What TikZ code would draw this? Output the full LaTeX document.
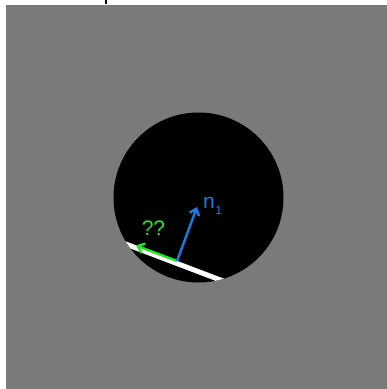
\documentclass[tikz,border=0pt]{standalone}
\usepackage{fontspec}
\setmainfont{Liberation Sans}
\usetikzlibrary{arrows.meta}
\definecolor{bggray}{RGB}{122,122,122}
\definecolor{normalblue}{RGB}{24,124,230}
\definecolor{guessgreen}{RGB}{34,232,34}

\begin{document}
\begin{tikzpicture}[x=1pt, y=-1pt, line cap=butt,
	vecline/.style={line width=2.4pt, -{Straight Barb[length=6pt, width=10pt]}},
	lbl/.style={font=\fontsize{21}{21}\selectfont, inner sep=0pt}]
	% Background, disc and surface:
	\useasboundingbox (0, 0) rectangle (387, 389);
	\fill[white] (0, 0) rectangle (387, 389);
	\fill[bggray] (6, 5) rectangle (387, 389);
	\fill[black] (105, 0) rectangle (107, 4);
	\node[circle, fill=black, minimum size=170pt, inner sep=0pt](disc) at (198.5, 197.5){};
	\coordinate (cl) at (77, 225.5);
	\coordinate (cr) at (277, 301.5);
	\begin{scope}
		\clip (disc.center) circle (85);
		\draw[white, line width=5pt] (cl) -- (cr);
	\end{scope}
	% Vectors and labels:
	\coordinate (hit) at (177, 261);
	\coordinate (nrm) at (197, 207);
	\coordinate (ref) at (136, 245.5);
	\draw[vecline, guessgreen] (hit) -- (ref);
	\draw[vecline, normalblue] (hit) -- (nrm);
	\node[lbl, text=guessgreen](Q) at (153.5, 228.5){??};
	\node[lbl, text=normalblue, anchor=base west](N1) at (203, 208.5){n\kern0.5pt\raisebox{-5.5pt}{\fontsize{12}{12}\selectfont 1}};
\end{tikzpicture}
\end{document}
